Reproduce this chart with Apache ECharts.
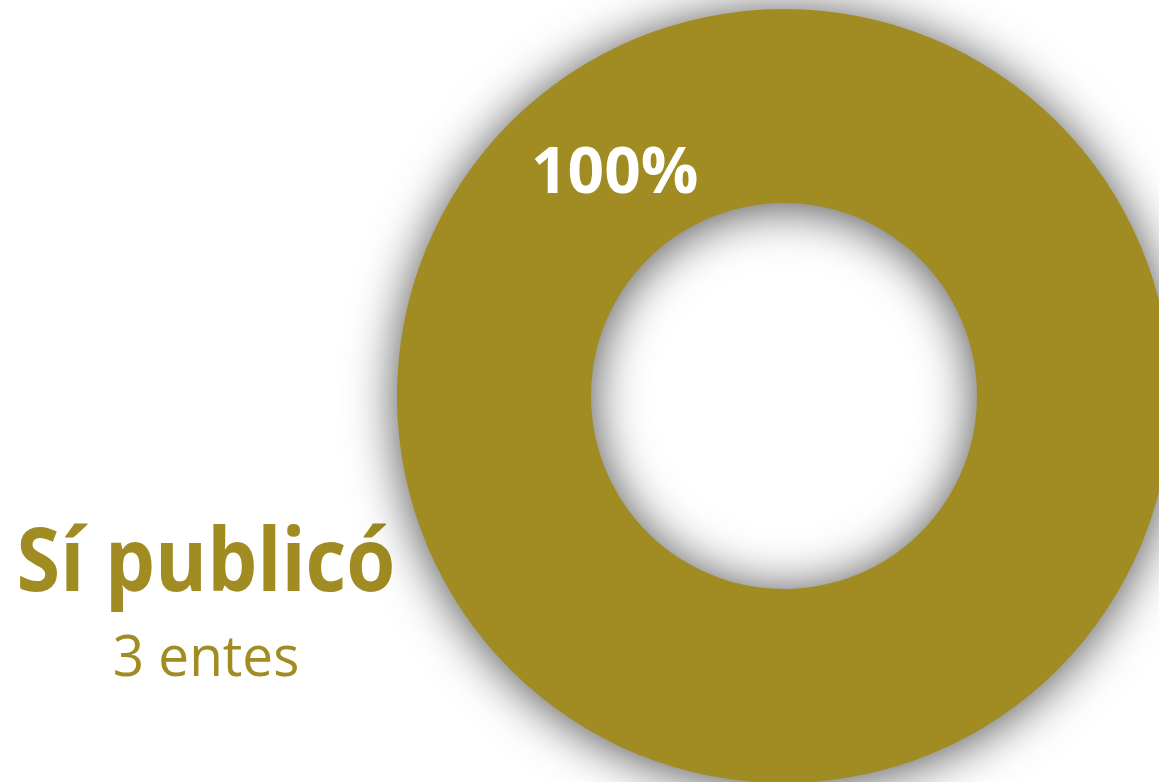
<!DOCTYPE html>
<html>
<head>
<meta charset="utf-8">
<script src="https://cdn.jsdelivr.net/npm/echarts@6/dist/echarts.min.js"></script>
<style>
html,body{margin:0;padding:0;background:#fff;}
#c{width:1159px;height:782px;}
</style>
</head>
<body>
<div id="c"></div>
<script>
const categories = ['Sí publicó'];
const values = [3];
const unitLabel = 'entes';
const colors = ['#A08C22'];

const chart = echarts.init(document.getElementById('c'), null, {renderer: 'canvas'});
chart.setOption({
  backgroundColor: '#ffffff',
  animation: false,
  series: [{
    type: 'pie',
    center: [784, 396],
    radius: [193, 387],
    startAngle: 306.75,
    silent: true,
    data: categories.map((c, i) => ({name: c, value: values[i], itemStyle: {color: colors[i]}})),
    itemStyle: {
      shadowBlur: 50,
      shadowColor: 'rgba(0,0,0,0.7)',
      shadowOffsetY: 3,
      borderWidth: 0
    },
    label: {
      show: true,
      position: 'inside',
      formatter: '{d}%',
      color: '#ffffff',
      fontFamily: 'Open Sans',
      fontWeight: 'bold',
      fontSize: 64,
      offset: [6, 14]
    },
    labelLine: {show: false},
    emphasis: {disabled: true}
  }],
  graphic: [
    {
      type: 'text',
      x: 206, y: 566,
      scaleX: 0.9,
      style: {
        text: categories[0],
        fill: colors[0],
        font: 'bold 88px "Open Sans"',
        textAlign: 'center',
        textVerticalAlign: 'middle'
      }
    },
    {
      type: 'text',
      x: 206, y: 660,
      scaleX: 0.98,
      style: {
        text: values[0] + ' ' + unitLabel,
        fill: colors[0],
        font: '56px "Open Sans"',
        textAlign: 'center',
        textVerticalAlign: 'middle'
      }
    }
  ]
});
</script>
</body>
</html>
